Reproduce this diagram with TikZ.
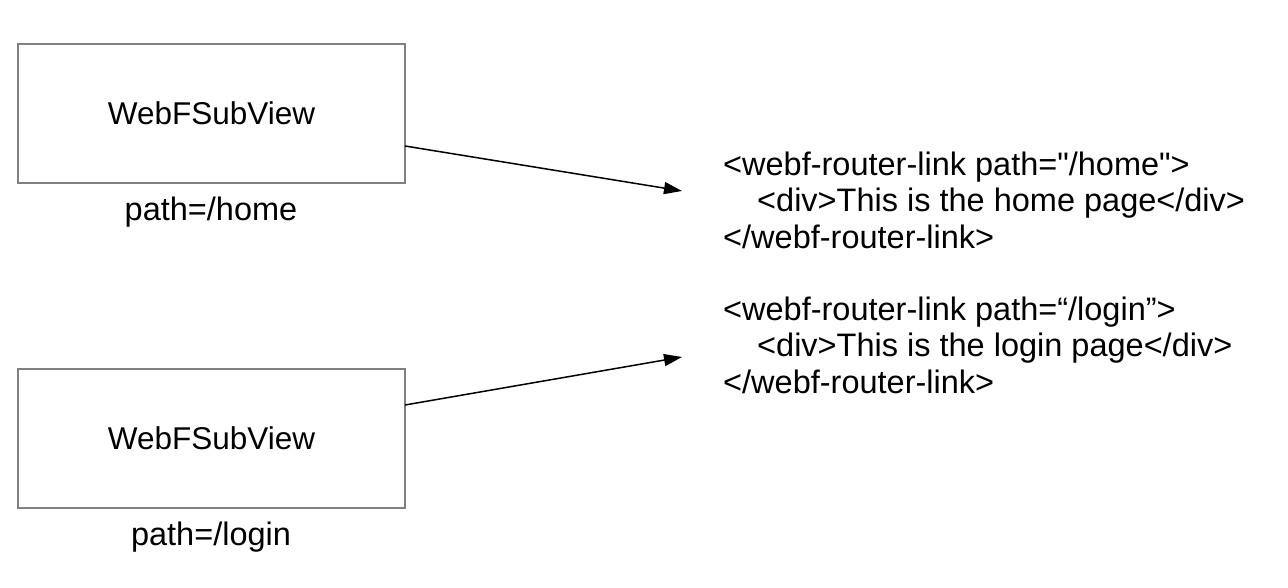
\documentclass[tikz,border=0pt]{standalone}
\usepackage{fontspec}
\setmainfont{Liberation Sans}
\newfontfamily\codefont{Liberation Sans}
\usetikzlibrary{arrows.meta}
\begin{document}
\begin{tikzpicture}[x=1pt,y=-1pt,
  viewbox/.style={draw=black!50,line width=1.5pt,minimum width=387pt,minimum height=139pt,inner sep=0pt,font=\fontsize{31.5}{36}\selectfont},
  lbl/.style={inner sep=0pt,font=\fontsize{32.5}{36}\selectfont},
  code/.style={inner sep=0pt,align=left,anchor=north west,font=\codefont\fontsize{32.5}{36.2}\selectfont},
  conn/.style={line width=1.5pt,-{Triangle[length=18pt,width=12pt]}}]
\useasboundingbox (0,0) rectangle (1288,588);
\node[viewbox] (v1) at (211.5,113.5) {WebFSubView};
\node[viewbox] (v2) at (211.5,438.5) {WebFSubView};
\node[lbl] (l1) at (211,212) {path=/home};
\node[lbl] (l2) at (211,537) {path=/login};
\node[code] (c1) at (723,152) {<webf-router-link path="/home">\\\hspace*{34pt}<div>This is the home page</div>\\</webf-router-link>};
\node[code] (c2) at (723,297) {<webf-router-link path=“/login”>\\\hspace*{34pt}<div>This is the login page</div>\\</webf-router-link>};
\coordinate (s1) at (405,146);
\coordinate (e1) at (682,191);
\coordinate (s2) at (405,405);
\coordinate (e2) at (682,357);
\draw[conn] (s1) -- (e1);
\draw[conn] (s2) -- (e2);
\end{tikzpicture}
\end{document}
